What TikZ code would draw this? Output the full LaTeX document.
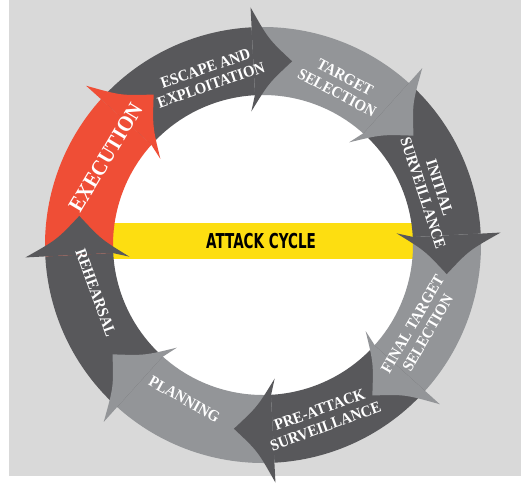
\documentclass[tikz,border=0pt]{standalone}
\usepackage{fontspec}
\newfontfamily\stepfont{Liberation Serif}[FakeStretch=0.92]
\newfontfamily\titlefont{DejaVu Sans}[FakeStretch=0.66]
\definecolor{bggray}{RGB}{217,217,217}
\definecolor{stepdark}{RGB}{88,88,91}
\definecolor{steplight}{RGB}{147,149,152}
\definecolor{stepred}{RGB}{239,78,54}
\definecolor{bandyellow}{RGB}{253,222,17}
\begin{document}
\begin{tikzpicture}[x=1pt,y=1pt,
    steplabel/.style={text=white, font=\stepfont\bfseries\fontsize{16}{17.5}\selectfont, align=center, inner sep=0pt}]
  \useasboundingbox (-263,-238) rectangle (258,245);
  \fill[bggray] (-254,-231) rectangle (258,245);
  \fill[white] (0,0) circle (152);
  \fill[bandyellow] (-152,-14) rectangle (152,22);
  \node[font=\titlefont\bfseries\fontsize{20.5}{22}\selectfont, inner sep=0pt] (title) at (-2,4) {ATTACK CYCLE};

  \foreach \b/\c in {93/stepdark,48/steplight,3/stepdark,-42/steplight,-87/stepdark,-132/steplight,-177/stepdark,-222/stepred}
    \fill[\c] (\b+45:218) arc[start angle=\b+45, end angle=\b, radius=218] -- (\b:150) arc[start angle=\b, end angle=\b+45, radius=150] -- cycle;
  \foreach \b/\c in {93/stepdark,48/steplight,3/stepdark,-42/steplight,-87/stepdark,-132/steplight,-177/stepdark,-222/stepred}
    \fill[\c] (\b:217) -- (\b:238) .. controls (\b-4.5:206) .. (\b-12:186) .. controls (\b-5:162) .. (\b+2:134) -- (\b:151) -- cycle;

  \node[steplabel, rotate=19] (escape) at (108:177) {ESCAPE AND\\EXPLOITATION};
  \node[steplabel, rotate=-28] (target) at (64:178) {TARGET\\SELECTION};
  \node[steplabel, rotate=-72] (initial) at (18:177) {INITIAL\\SURVEILLANCE};
  \node[steplabel, rotate=60] (final) at (-28:178) {FINAL TARGET\\SELECTION};
  \node[steplabel, rotate=20] (preattack) at (-71:183) {PRE-ATTACK\\SURVEILLANCE};
  \node[steplabel, rotate=-29] (planning) at (-117:173) {PLANNING};
  \node[steplabel, rotate=-70] (rehearsal) at (-164:174) {REHEARSAL};
  \node[steplabel, rotate=59, font=\stepfont\bfseries\fontsize{22}{22}\selectfont] (execution) at (151:180) {EXECUTION};
\end{tikzpicture}
\end{document}
